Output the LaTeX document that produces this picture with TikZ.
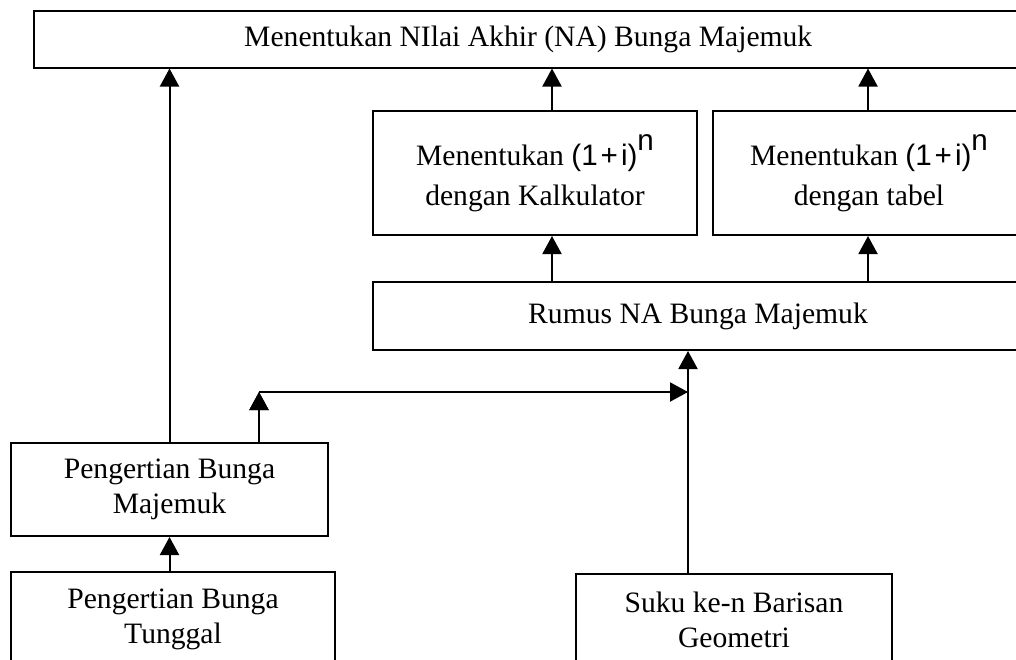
\documentclass[tikz,border=0pt]{standalone}
\usepackage{fontspec}
\setmainfont{Liberation Serif}
\newfontfamily\arialfont{Liberation Sans}
\usetikzlibrary{arrows.meta, positioning, calc}

\newcommand{\satui}{{\arialfont(1\kern1.5pt+\kern1.5pt i)\raisebox{7.5pt}{n}}}

\begin{document}
\begin{tikzpicture}
	[x=0.5pt, y=-0.5pt,
	 -{Triangle[length=9pt, width=9.5pt]},
	 line width=1pt,
	 align=center,
	 font=\fontsize{14.8}{17.5}\selectfont,
	 box/.style={draw, rectangle, anchor=north west, inner sep=0pt, line width=1pt}]

	\useasboundingbox (0,0) rectangle (1016,659);
	\clip (0,0) rectangle (1016,659);

	\node[box, minimum width=494.75pt, minimum height=28.25pt] (na) at (32.5,10) {Menentukan NIlai Akhir (NA) Bunga Majemuk};
	\node[box, minimum width=162pt, minimum height=62pt] (kalk) at (372,110) {Menentukan \satui\\[2.5pt] dengan Kalkulator};
	\node[box, right = 7pt of kalk, minimum width=156pt, minimum height=62pt] (tabel) {Menentukan \satui\\[2.5pt] dengan tabel};
	\node[box, minimum width=325pt, minimum height=34pt] (rumus) at (372,281) {Rumus NA Bunga Majemuk};
	\node[box, minimum width=158.5pt, minimum height=46.5pt] (maj) at (10,442) {Pengertian Bunga\\ Majemuk};
	\node[box, below = 17pt of maj.south west, anchor=north west, minimum width=162pt, minimum height=47pt] (tun) {Pengertian Bunga\\ Tunggal};
	\node[box, minimum width=158pt, minimum height=45.5pt] (suku) at (575,573) {Suku ke-n Barisan\\ Geometri};

	\coordinate (kol1) at (552,0);
	\coordinate (kol2) at (868,0);
	\coordinate (kol3) at (688,0);
	\coordinate (jl) at (259,392);
	\coordinate (jr) at (688,392);

	\draw
	(maj.north) edge (maj.north |- na.south)
	(tun.north -| maj.north) edge (maj.south)
	(kalk.north -| kol1) edge (na.south -| kol1)
	(tabel.north -| kol2) edge (na.south -| kol2)
	(rumus.north -| kol1) edge (kalk.south -| kol1)
	(rumus.north -| kol2) edge (tabel.south -| kol2)
	(suku.north -| kol3) edge (rumus.south -| kol3)
	(maj.north -| jl) edge (jl)
	(jl) edge (jr)
	;
\end{tikzpicture}
\end{document}
